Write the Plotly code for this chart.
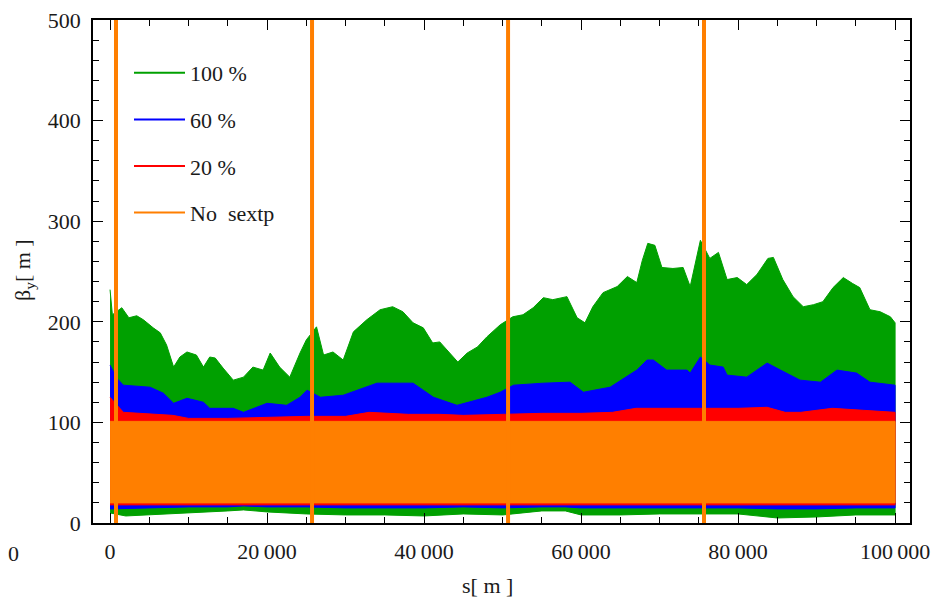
"""
Beta_y along s for different sextupole strengths (Plotly version)
"""

import plotly.graph_objects as go

# upper envelopes (s in m, beta_y in m)
s_green_up = [0, 300, 1500, 2400, 3400, 4250, 5500, 6400, 7200, 8100,
              8900, 9800, 11000, 11900, 12700, 13400, 14400, 15700, 17000, 18200,
              19500, 20400, 21600, 22900, 24200, 25000, 26300, 27200, 28400, 29700,
              31000, 32700, 34400, 36000, 37300, 38600, 39900, 41100, 42000, 43300,
              44300, 45500, 46800, 48000, 49700, 51300, 52600, 53900, 55200, 56400,
              58200, 59500, 60500, 61500, 62800, 64600, 65900, 67100, 67800, 68500,
              69400, 70300, 71700, 73000, 73900, 75200, 76400, 77500, 78600, 79900,
              81100, 82400, 83800, 84500, 85700, 87000, 88300, 89600, 90800, 92100,
              93400, 94600, 95500, 96800, 98100, 99400, 100000]
green_up = [232, 207, 214, 204, 206, 202, 194, 189, 177, 155,
            165, 170, 167, 155, 165, 164, 154, 142, 145, 155,
            152, 169, 155, 145, 169, 182, 195, 167, 170, 162,
            190, 202, 212, 215, 210, 199, 194, 179, 180, 169,
            160, 169, 175, 185, 197, 205, 207, 214, 224, 222,
            225, 204, 199, 215, 229, 235, 245, 239, 261, 278,
            276, 254, 253, 254, 235, 281, 263, 269, 242, 244,
            237, 247, 263, 264, 242, 225, 215, 217, 220, 234,
            244, 238, 234, 212, 210, 205, 199]

s_blue_up = [0, 850, 1700, 5100, 6800, 8100, 9800, 11900, 12700, 15700,
             17000, 20000, 22500, 24200, 25100, 26800, 29700, 32700, 34000, 36100,
             38600, 39900, 41200, 44200, 48000, 49700, 51400, 55200, 58600, 60300,
             63700, 67100, 68400, 69200, 70900, 73500, 73900, 75200, 76400, 78100,
             78600, 81100, 83700, 85400, 87900, 90500, 92600, 95100, 96800, 100000]
blue_up = [157, 144, 137, 135, 129, 119, 124, 120, 114, 114,
           110, 119, 117, 125, 132, 125, 127, 135, 139, 139,
           139, 132, 125, 117, 125, 130, 137, 139, 140, 130,
           135, 152, 162, 162, 152, 152, 149, 165, 157, 155,
           147, 145, 159, 152, 142, 140, 152, 149, 140, 137]

s_red_up = [0, 1700, 8000, 10000, 15000, 20000, 25000, 30000, 33000, 38000,
            42000, 45000, 50000, 55000, 60000, 64000, 67000, 70000, 75000, 80000,
            83700, 86000, 88000, 92000, 96000, 100000]
red_up = [125, 110, 107, 104, 104, 105, 106, 106, 110, 108,
          108, 107, 108, 109, 109, 110, 114, 114, 114, 114,
          115, 110, 110, 114, 112, 110]

s_orange_up = [0, 100000]
orange_up = [101, 101]

# lower envelopes
s_low = [0, 2000, 5000, 10000, 15000, 17000, 20000, 25000, 30000, 35000, 40000, 45000,
         50000, 55000, 58000, 60000, 65000, 70000, 75000, 80000, 85000, 90000, 95000, 100000]
green_lo = [10, 7, 8, 10, 12, 13, 11, 9, 8, 8, 7, 9, 8, 12, 12, 8, 8, 9, 9, 9, 5, 6, 8, 8]
blue_lo = [14, 15, 15, 16, 16, 17, 16, 16, 15, 15, 15, 16, 15, 16, 16, 15, 15, 15, 15, 15, 14, 14, 15, 15]
red_lo = [18] * len(s_low)
orange_lo = [20] * len(s_low)

# tall spikes of the no-sextupole case
s_spike = [760, 25730, 50700, 75660]
spike_top = [600, 600, 600, 600]

series = [
    ('100 %', '#00a000', s_green_up, green_up, green_lo),
    ('60 %', '#0000ff', s_blue_up, blue_up, blue_lo),
    ('20 %', '#ff0000', s_red_up, red_up, red_lo),
    ('No  sextp', '#ff7f00', s_orange_up, orange_up, orange_lo),
]

FONT = 'Liberation Serif'
TXT = '#1a1a1a'
FS = 22

# the page body adds an 8 px margin, so the figure is drawn 8 px smaller
OFF = 8
W, H = 939 - OFF, 604 - OFF
L, R, T, B = 93 - OFF, 29, 20 - OFF, 81
PW, PH = W - L - R, H - T - B


def px(x):
    # window pixel -> paper x
    return (x - OFF - L) / PW


def py(y):
    # window pixel -> paper y
    return (H - B - (y - OFF)) / PH


fig = go.Figure()

# bands
for name, color, s_up, up, lo in series:
    fig.add_trace(go.Scatter(
        x=list(s_up) + s_low[::-1],
        y=list(up) + lo[::-1],
        mode='lines',
        line=dict(color=color, width=1),
        fill='toself',
        fillcolor=color,
        showlegend=False,
        hoverinfo='skip'
    ))

# spikes
sx, sy = [], []
for s, top in zip(s_spike, spike_top):
    sx += [s, s, None]
    sy += [0, top, None]
fig.add_trace(go.Scatter(x=sx, y=sy, mode='lines',
                         line=dict(color='#ff7f00', width=4),
                         showlegend=False, hoverinfo='skip'))

# legend entries (line style like the original)
for i, (name, color, *_rest) in enumerate(series):
    fig.add_trace(go.Scatter(
        x=[None], y=[None], mode='lines', name=name,
        line=dict(color=color, width=2),
        legendgroup=f'g{i}'
    ))

axis_common = dict(
    showgrid=False,
    zeroline=False,
    showline=True,
    linecolor='black',
    linewidth=1.5,
    mirror='allticks',
    ticks='inside',
    ticklen=10,
    tickwidth=1.2,
    tickcolor='black',
    automargin=False,
    ticklabeloverflow='allow',
    tickfont=dict(family=FONT, size=FS, color=TXT),
)

fig.update_layout(
    width=W,
    height=H,
    margin=dict(l=L, r=R, t=T, b=B),
    plot_bgcolor='white',
    paper_bgcolor='white',
    separators='.\u2009',
    xaxis=dict(
        range=[-2170, 101900],
        tick0=0, dtick=20000,
        tickformat=',d',
        ticklabelstandoff=8,
        minor=dict(ticks='inside', ticklen=6, dtick=5000, tick0=0, tickcolor='black'),
        **axis_common
    ),
    yaxis=dict(
        range=[0, 500],
        tick0=0, dtick=100,
        ticklabelstandoff=6,
        minor=dict(ticks='inside', ticklen=6, dtick=20, tick0=0, tickcolor='black'),
        **axis_common
    ),
    legend=dict(
        x=px(129), y=py(52),
        xanchor='left', yanchor='top',
        bgcolor='rgba(0,0,0,0)',
        font=dict(family=FONT, size=FS, color=TXT),
        tracegroupgap=15,
        itemwidth=51,
    ),
    showlegend=True,
)

# axis titles
fig.add_annotation(text='s[ m ]', xref='paper', yref='paper',
                   x=px(487), y=py(585), xanchor='center', yanchor='middle',
                   showarrow=False, font=dict(family=FONT, size=FS, color=TXT))
fig.add_annotation(text='β<sub>y</sub>[ m ]', xref='paper', yref='paper',
                   x=px(24), y=py(270), xanchor='center', yanchor='middle',
                   showarrow=False, textangle=-90,
                   font=dict(family=FONT, size=FS, color=TXT))

# stray label from a neighbouring panel at the left edge
fig.add_annotation(text='0', xref='paper', yref='paper',
                   x=px(13), y=py(553), xanchor='center', yanchor='middle',
                   showarrow=False, font=dict(family=FONT, size=FS, color=TXT))

fig.write_html("out.html")
